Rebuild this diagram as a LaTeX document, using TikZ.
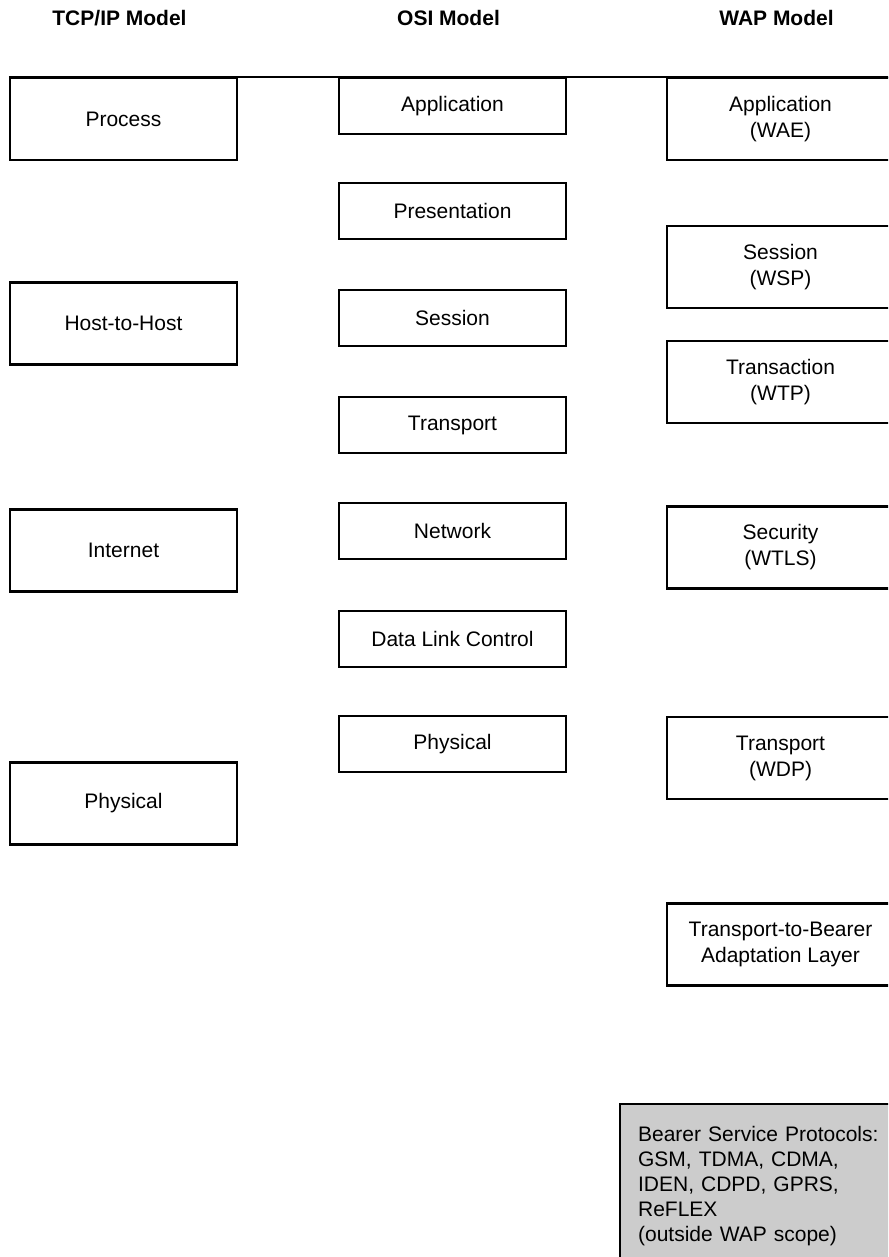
\documentclass[tikz,border=0pt]{standalone}
\usepackage{fontspec}
\setmainfont{Liberation Sans}
\begin{document}
\begin{tikzpicture}[x=1pt,y=-1pt,
  layer/.style={draw, line width=2.2pt, minimum width=227pt, inner sep=0pt,
    font=\fontsize{21}{26}\selectfont, align=center},
  tall/.style={layer, minimum height=82pt},
  short/.style={layer, minimum height=56pt},
  heading/.style={font=\fontsize{21}{26}\selectfont\bfseries, anchor=base},
  bearer/.style={draw, line width=2.2pt, fill=black!20, anchor=north west,
    align=left, text width=270pt, inner xsep=18pt, inner ysep=22pt,
    font=\fontsize{21}{25}\selectfont},
  rule/.style={line width=2.2pt}]
\useasboundingbox (0,0) rectangle (888,1257);
\clip (0,0) rectangle (888,1257);

% column headings
\node[heading] (hTcp) at (119.5,26) {TCP/IP Model};
\node[heading] (hOsi) at (448.5,26) {OSI Model};
\node[heading] (hWap) at (776.5,26) {WAP Model};

% TCP/IP stack
\node[tall] (tcpProcess)  at (123.5,119)   {Process};
\node[tall] (tcpHost)     at (123.5,323.5) {Host-to-Host};
\node[tall] (tcpInternet) at (123.5,550.5) {Internet};
\node[tall] (tcpPhysical) at (123.5,803.5) {Physical};

% OSI stack
\node[short] (osiApp)   at (452.5,106) {Application};
\node[short] (osiPres)  at (452.5,211) {Presentation};
\node[short] (osiSess)  at (452.5,318) {Session};
\node[short] (osiTrans) at (452.5,425) {Transport};
\node[short] (osiNet)   at (452.5,531) {Network};
\node[short] (osiDlc)   at (452.5,639) {Data Link Control};
\node[short] (osiPhys)  at (452.5,744) {Physical};

% WAP stack
\node[tall] (wapApp)   at (780.5,119)   {Application\\(WAE)};
\node[tall] (wapSess)  at (780.5,267)   {Session\\(WSP)};
\node[tall] (wapTrans) at (780.5,382)   {Transaction\\(WTP)};
\node[tall] (wapSec)   at (780.5,547.5) {Security\\(WTLS)};
\node[tall] (wapTport) at (780.5,758)   {Transport\\(WDP)};
\node[tall] (wapAdapt) at (780.5,944.5) {Transport-to-Bearer\\Adaptation Layer};

\node[bearer] (bearer) at (619,1103)
  {Bearer Service Protocols:\\GSM, TDMA, CDMA,\\IDEN, CDPD, GPRS,\\ReFLEX\\(outside WAP scope)};

% common top edge
\draw[rule] (tcpProcess.north west) -- (wapApp.north east);
\end{tikzpicture}
\end{document}
